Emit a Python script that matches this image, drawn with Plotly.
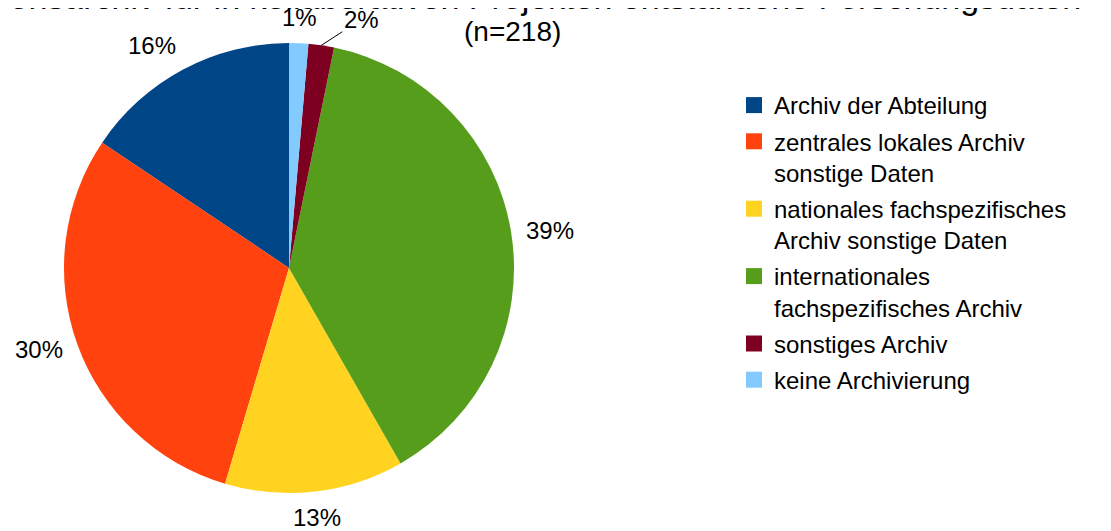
import math
import plotly.graph_objects as go

categories = [
    "Archiv der Abteilung",
    "zentrales lokales Archiv<br>sonstige Daten",
    "nationales fachspezifisches<br>Archiv sonstige Daten",
    "internationales<br>fachspezifisches Archiv",
    "sonstiges Archiv",
    "keine Archivierung",
]
counts = [34, 65, 28, 84, 4, 3]
colors = ["#004586", "#ff420e", "#ffd320", "#579d1c", "#7e0021", "#83caff"]

title_line1 = "Publikationsarchiv für in kollaborativen Projekten entstandene Forschungsdaten"
title_line2 = "(n=218)"

W, H = 1111, 531
# page body has an 8px margin, so figure coords = screen coords - 8
OFF = 8
cx, cy, r = 289 - OFF, 268 - OFF, 225

total = sum(counts)
# counterclockwise in plotly: first slice ends at `rotation`; shift so it starts at 12 o'clock
rot = -360.0 * counts[0] / total

fig = go.Figure()
fig.add_trace(go.Pie(
    labels=categories,
    values=counts,
    sort=False,
    direction="counterclockwise",
    rotation=rot,
    marker=dict(colors=colors, line=dict(width=0)),
    textinfo="none",
    domain=dict(x=[(cx - r) / W, (cx + r) / W], y=[1 - (cy + r) / H, 1 - (cy - r) / H]),
    hoverinfo="label+percent",
    showlegend=False,
))

for name, c in zip(categories, colors):
    fig.add_trace(go.Scatter(
        x=[None], y=[None], mode="markers", name=name, legendgroup=name,
        marker=dict(symbol="square", size=16, color=c, line=dict(width=0)),
        hoverinfo="skip",
    ))

# percentage labels placed outside the slices, computed from the values
label_r = r + 15
hw, hh = 24, 11
slices = []
cum = 0.0
for v in counts:
    mid_ccw = (cum + v / 2) / total * 360.0   # degrees counterclockwise from 12 o'clock
    cum += v
    cw = (360.0 - mid_ccw) % 360.0            # clockwise angle from 12 o'clock
    slices.append((cw, v))

annotations = []
placed = []
for cw, v in sorted(slices):
    pct = f"{round(100 * v / total)}%"
    th = math.radians(cw)
    s, c = math.sin(th), math.cos(th)
    px, py = cx + label_r * s, cy - label_r * c
    sx = 0 if abs(s) < math.sin(math.radians(22.5)) else (1 if s > 0 else -1)
    sy = 0 if abs(c) < math.sin(math.radians(22.5)) else (-1 if c > 0 else 1)
    tx, ty = px + hw * sx, py + hh * sy
    clashes = [(ox, oy) for ox, oy in placed if abs(tx - ox) < 2 * hw and abs(ty - oy) < 2 * hh]
    if clashes:
        # move to the right of the clashing label and connect with a leader line
        ex, ey = cx + r * s, cy - r * c
        nx = max(ox for ox, oy in clashes) + 2 * hw + 14
        ny = ty
        annotations.append(dict(
            text=pct, x=ex / W, y=1 - ey / H, xref="paper", yref="paper",
            ax=nx - ex, ay=ny - ey, axref="pixel", ayref="pixel",
            showarrow=True, arrowhead=0, arrowwidth=1, arrowcolor="#000000", standoff=0,
            font=dict(size=24, color="#000000"),
        ))
        placed.append((nx, ny))
    else:
        annotations.append(dict(
            text=pct, x=tx / W, y=1 - ty / H, xref="paper", yref="paper",
            xanchor="center", yanchor="middle", showarrow=False,
            font=dict(size=24, color="#000000"),
        ))
        placed.append((tx, ty))

annotations += [
    dict(text=title_line1, x=(1083 - OFF) / W, y=1 - (-3 - OFF) / H, xref="paper", yref="paper",
         xanchor="right", yanchor="middle", showarrow=False,
         font=dict(size=34, color="#000000")),
    dict(text=title_line2, x=(512 - OFF) / W, y=1 - (31 - OFF) / H, xref="paper", yref="paper",
         xanchor="center", yanchor="middle", showarrow=False,
         font=dict(size=28, color="#000000")),
]

fig.update_layout(
    width=W, height=H,
    margin=dict(l=0, r=0, t=0, b=0, autoexpand=False),
    paper_bgcolor="white",
    plot_bgcolor="white",
    xaxis=dict(visible=False),
    yaxis=dict(visible=False),
    font=dict(family="Liberation Sans, Arial, sans-serif", size=24, color="#000000"),
    showlegend=True,
    legend=dict(
        x=(734 - OFF) / W, y=1 - (83 - OFF) / H, xanchor="left", yanchor="top",
        font=dict(size=24, color="#000000"),
        bgcolor="rgba(0,0,0,0)",
        tracegroupgap=2,
        valign="top",
    ),
    annotations=annotations,
)

fig.write_html("out.html")
